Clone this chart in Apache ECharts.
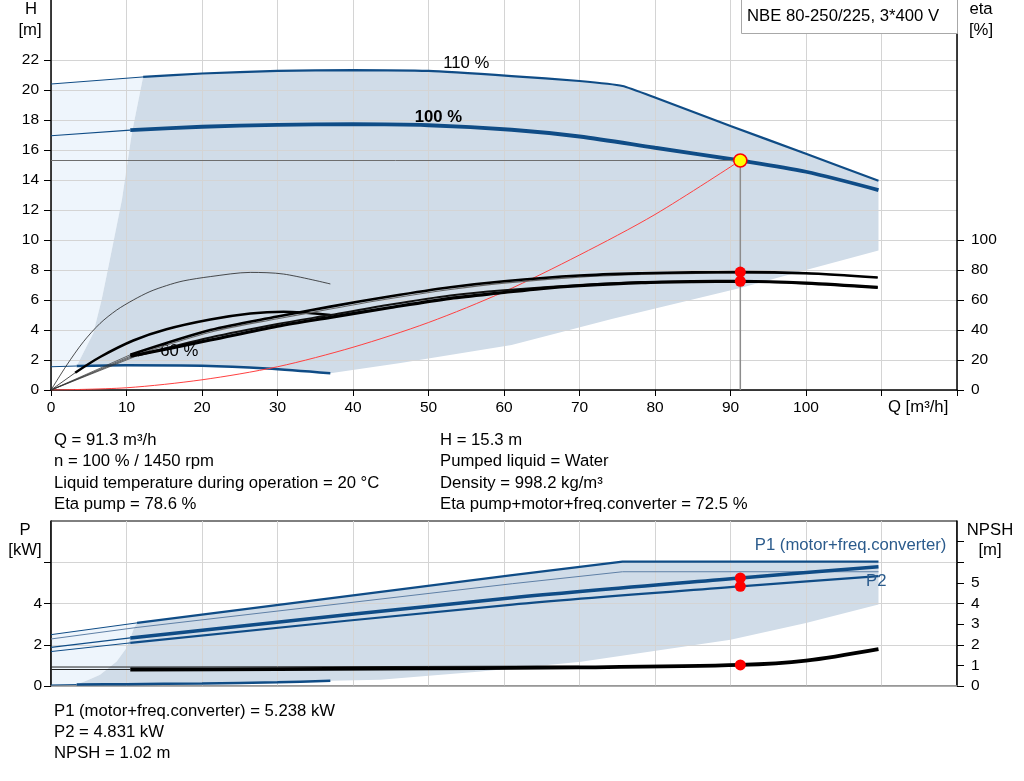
<!DOCTYPE html>
<html>
<head>
<meta charset="utf-8">
<script src="https://cdn.jsdelivr.net/npm/echarts@6/dist/echarts.min.js"></script>
<style>
html, body { margin: 0; padding: 0; background: #fff; }
#chart { width: 1024px; height: 781px; }
</style>
</head>
<body>
<div id="chart"></div>
<script>
// ---- 刻度 ----
const qLabels = [0, 10, 20, 30, 40, 50, 60, 70, 80, 90, 100]
const hLabels = [0, 2, 4, 6, 8, 10, 12, 14, 16, 18, 20, 22]
const etaLabels = [0, 20, 40, 60, 80, 100]
const pLabels = [0, 2, 4]
const pTicks = [0, 2, 4, 6]
const npshLabels = [0, 1, 2, 3, 4, 5]
const npshTicks = [0, 1, 2, 3, 4, 5, 6, 7]

// ---- 扬程曲线 H [m] ----
const h110Thin = [[0, 20.4], [12.2, 20.87]]
const h110 = [[12.2, 20.87], [20, 21.1], [30, 21.27], [40, 21.33], [50, 21.27], [61, 20.93], [70, 20.6], [75.7, 20.27], [80, 19.5], [90, 17.6], [100, 15.75], [109.6, 13.95]]
const h100Thin = [[0, 16.95], [10.5, 17.33]]
const h100 = [[10.5, 17.33], [20, 17.55], [30, 17.68], [40, 17.72], [50, 17.65], [61, 17.35], [70, 16.9], [80, 16.15], [91.3, 15.3], [100, 14.55], [109.6, 13.33]]
const h60Thin = [[0, 1.55], [3.4, 1.6]]
const h60 = [[3.4, 1.6], [10, 1.65], [20, 1.62], [28.6, 1.44], [37, 1.12]]
const systemCurve = [[0, 0], [10, 0.15], [20, 0.68], [30, 1.55], [40, 2.85], [50, 4.5], [60, 6.55], [70, 9.0], [80, 11.7], [91.3, 15.3]]
const dutyQ = 91.3
const dutyH = 15.3

// ---- 效率曲线 eta [%] ----
const etaPump60 = [[0, 0], [2.1, 16.7], [4.3, 32.2], [6.5, 44.4], [8.7, 53.3], [10.9, 60], [13.1, 65.6], [15.3, 69.6], [17.5, 72.7], [21.1, 75.6], [26.4, 78.4], [30.8, 77.3], [37, 70.7]]
const etaTot60Thin = [[0, 0], [3.2, 11.5]]
const etaTot60 = [[3.2, 11.5], [6.5, 22], [10.9, 33], [15.3, 40.5], [21.1, 47], [26.4, 51], [30.8, 52.2], [37, 50]]
const etaPump100Thin = [[0, 0], [10.5, 23.5]]
const etaPump100 = [[10.5, 23.5], [21.1, 40], [30, 49], [37, 55.6], [45, 62.5], [52.9, 68.5], [60, 72.5], [70, 76.3], [78.2, 77.8], [85, 78.4], [91.3, 78.6], [100, 77.8], [109.5, 75]]
const etaPump110Thin = [[0, 0], [11.5, 23.8]]
const etaPump110 = [[11.5, 23.8], [21.1, 38.5], [30, 47.5], [37, 54], [45, 61], [52.9, 67], [60, 71.2], [70, 75.2], [78.2, 77], [91.3, 78.1], [100, 77.5], [109.5, 75]]
const etaTot100Thin = [[0, 0], [10.5, 22.5]]
const etaTot100 = [[10.5, 22.5], [21.1, 33.3], [30, 42.5], [37, 48.4], [45, 55], [52.9, 61.1], [60, 65], [64.9, 67.6], [70, 69.5], [78.2, 71.6], [85, 72.3], [91.3, 72.5], [100, 71.3], [109.5, 68.4]]
const etaTot110Thin = [[0, 0], [11.5, 23]]
const etaTot110 = [[11.5, 23], [21.1, 35], [30, 44], [37, 50], [45, 57], [52.9, 63], [60, 66.5], [70, 70], [78.2, 71.8], [91.3, 72.4], [100, 71.2], [109.5, 68.4]]
const etaDuty = [[91.3, 78.6], [91.3, 72.5]]

// ---- 工作区域 ----
const areaTopLight = [[0, 20.4], [12.2, 20.87], [10.7, 17.1], [9.4, 12.7], [7.6, 8.2], [6.7, 6.0], [5.6, 3.78], [3.4, 1.6], [0, 1.55]]
const areaTopDark = [[12.2, 20.87], [20, 21.1], [30, 21.27], [40, 21.33], [50, 21.27], [61, 20.93], [70, 20.6], [75.7, 20.27], [80, 19.5], [90, 17.6], [100, 15.75], [109.6, 13.95],
  [109.6, 9.3], [100, 8.0], [91.3, 6.8], [74.4, 4.75], [61, 3.0], [46.3, 1.8], [37, 1.12],
  [28.6, 1.44], [20, 1.62], [10, 1.65], [3.4, 1.6],
  [5.6, 3.78], [6.7, 6.0], [7.6, 8.2], [9.4, 12.7], [10.7, 17.1]]

// ---- 功率 P [kW] / NPSH [m] ----
const p1_110Thin = [[0, 2.49], [11.4, 3.06]]
const p1_110 = [[11.4, 3.06], [61.1, 5.38], [75.7, 6.03], [109.6, 6.03]]
const p2_110 = [[0, 2.28], [11.4, 2.84], [61.1, 4.96], [75.7, 5.54], [109.6, 5.54]]
const p1_100Thin = [[0, 1.87], [10.5, 2.33]]
const p1_100 = [[10.5, 2.33], [61.1, 4.28], [91.3, 5.238], [109.6, 5.78]]
const p2_100Thin = [[0, 1.67], [10.5, 2.09]]
const p2_100 = [[10.5, 2.09], [61.1, 3.95], [91.3, 4.831], [109.6, 5.33]]
const p60Thin = [[0, 0.05], [3.4, 0.07]]
const p60 = [[3.4, 0.07], [10, 0.09], [20, 0.12], [30, 0.18], [37, 0.26]]
const npsh110 = [[0, 0.92], [10.5, 0.92], [30, 0.93], [50, 0.95], [70, 0.97]]
const npsh100Thin = [[0, 0.8], [10.5, 0.8]]
const npsh100 = [[10.5, 0.8], [30, 0.82], [43.6, 0.84], [70, 0.9], [91.3, 1.02], [100, 1.23], [109.6, 1.79]]
const pDuty = [[91.3, 5.238], [91.3, 4.831]]
const npshDuty = [[91.3, 1.02]]

const areaBotLight = [[0, 2.49], [11.4, 3.06], [11, 2.8], [10.5, 2.33], [10, 1.84], [8.7, 1.19], [6.5, 0.54], [5, 0.3], [3.4, 0.07], [0, 0.05]]
const areaBotDark = [[11.4, 3.06], [61.1, 5.38], [75.7, 6.03], [109.6, 6.03],
  [109.6, 3.95], [100, 3.06], [90, 2.24], [70.2, 1.18], [56.9, 0.7], [43.6, 0.3], [37, 0.26],
  [30, 0.18], [20, 0.12], [10, 0.09], [3.4, 0.07],
  [5, 0.3], [6.5, 0.54], [8.7, 1.19], [10, 1.84], [10.5, 2.33], [11, 2.8]]

// ---- 文字 ----
const title = 'NBE 80-250/225, 3*400 V'
const infoLeft = ['Q = 91.3 m³/h', 'n = 100 % / 1450 rpm', 'Liquid temperature during operation = 20 °C', 'Eta pump = 78.6 %']
const infoRight = ['H = 15.3 m', 'Pumped liquid = Water', 'Density = 998.2 kg/m³', 'Eta pump+motor+freq.converter = 72.5 %']
const infoBottom = ['P1 (motor+freq.converter) = 5.238 kW', 'P2 = 4.831 kW', 'NPSH = 1.02 m']
// 曲线标注: [grid, Q, 值, 文字]
const curveTags = [
    [0, 17, 2.6, '60 %'],
    [0, 55, 21.75, '110 %'],
    [0, 51.3, 18.2, '100 %'],
    [1, 105.9, 6.8, 'P1 (motor+freq.converter)'],
    [1, 109.3, 5.05, 'P2']
]

const FONT = 'Arial, "Liberation Sans", sans-serif'
const TXT = 16.7 // 文字字号
const BLUE = '#0f4c86'
const TAG_BLUE = '#2b5b8c'
const AREA_DARK = '#d0dce8'
const AREA_LIGHT = '#eef5fc'

function curve(data, width, color, xi, yi, smooth) {
    return {
        type: 'line', data: data, xAxisIndex: xi, yAxisIndex: yi,
        symbol: 'none', silent: true, z: 3,
        smooth: smooth === undefined ? 0.3 : smooth,
        lineStyle: { width: width, color: color }
    }
}

function area(pts, color, xi, yi) {
    return {
        type: 'custom', data: pts, xAxisIndex: xi, yAxisIndex: yi, z: 1, silent: true,
        renderItem: function (params, api) {
            if (params.dataIndex !== 0) return null
            return {
                type: 'polygon',
                shape: { points: pts.map(function (p) { return api.coord(p) }) },
                style: { fill: color }
            }
        }
    }
}

function dots(data, size, fill, border, xi, yi) {
    return {
        type: 'scatter', data: data, xAxisIndex: xi, yAxisIndex: yi, z: 5, silent: true,
        symbolSize: size,
        itemStyle: { color: fill, borderColor: border, borderWidth: border ? 1.5 : 0, opacity: 1 }
    }
}

function txt(x, y, text, opts) {
    opts = opts || {}
    return {
        type: 'text', x: x, y: y, z: opts.z || 10,
        style: {
            text: text, fill: opts.color || '#000', fontSize: opts.size || TXT, fontFamily: FONT,
            fontWeight: opts.weight || 'normal', align: opts.align || 'left', verticalAlign: 'middle'
        }
    }
}

const axisFont = { fontSize: 15.5, fontFamily: FONT, color: '#000' }
const grayLine = { lineStyle: { color: '#d4d4d4', width: 1 } }

const graphics = [
    { type: 'rect', z: 10, shape: { x: 741.5, y: -1, width: 216, height: 34.5 }, style: { fill: '#fff', stroke: '#a8a8a8', lineWidth: 1 } },
    txt(747, 16, title),
    txt(31, 9, 'H', { align: 'center' }),
    txt(30, 30, '[m]', { align: 'center' }),
    txt(981, 9, 'eta', { align: 'center' }),
    txt(981, 30, '[%]', { align: 'center' }),
    txt(888, 407, 'Q [m³/h]'),
    txt(25, 530, 'P', { align: 'center' }),
    txt(25, 550, '[kW]', { align: 'center' }),
    txt(990, 530, 'NPSH', { align: 'center' }),
    txt(990, 550, '[m]', { align: 'center' })
]
infoLeft.forEach(function (s, i) { graphics.push(txt(54, 440 + i * 21.5, s)) })
infoRight.forEach(function (s, i) { graphics.push(txt(440, 440 + i * 21.5, s)) })
infoBottom.forEach(function (s, i) { graphics.push(txt(54, 711 + i * 21, s)) })

const option = {
    animation: false,
    backgroundColor: '#fff',
    grid: [
        { left: 51, top: 0, width: 906, height: 390 },
        { left: 51, top: 521, width: 906, height: 165, show: true, borderColor: '#000', borderWidth: 1 }
    ],
    xAxis: [
        {
            type: 'value', gridIndex: 0, min: 0, max: 120, interval: 10, z: 2,
            axisLine: { lineStyle: { color: '#000', width: 1.5 } },
            axisTick: { show: true, length: 6, lineStyle: { color: '#000' } },
            axisLabel: Object.assign({ margin: 10, customValues: qLabels }, axisFont),
            splitLine: grayLine
        },
        {
            type: 'value', gridIndex: 1, min: 0, max: 120, interval: 10, z: 2,
            axisLine: { lineStyle: { color: '#a0a0a0', width: 1.5 } },
            axisTick: { show: false }, axisLabel: { show: false },
            splitLine: grayLine
        }
    ],
    yAxis: [
        {
            type: 'value', gridIndex: 0, min: 0, max: 26, interval: 2, z: 2,
            axisLine: { show: true, lineStyle: { color: '#000', width: 1.5 } },
            axisTick: { show: true, length: 7, customValues: hLabels, lineStyle: { color: '#000' } },
            axisLabel: Object.assign({ margin: 12, customValues: hLabels }, axisFont),
            splitLine: grayLine
        },
        {
            type: 'value', gridIndex: 0, position: 'right', min: 0, max: 260, interval: 20, z: 2,
            axisLine: { show: true, lineStyle: { color: '#000', width: 1.5 } },
            axisTick: { show: true, length: 7, customValues: etaLabels, lineStyle: { color: '#000' } },
            axisLabel: Object.assign({ margin: 14, customValues: etaLabels }, axisFont),
            splitLine: { show: false }
        },
        {
            type: 'value', gridIndex: 1, min: 0, max: 8, interval: 2, z: 2,
            axisLine: { show: true, lineStyle: { color: '#000', width: 1.5 } },
            axisTick: { show: true, length: 7, customValues: pTicks, lineStyle: { color: '#000' } },
            axisLabel: Object.assign({ margin: 9, customValues: pLabels }, axisFont),
            splitLine: grayLine
        },
        {
            type: 'value', gridIndex: 1, position: 'right', min: 0, max: 8, interval: 1, z: 2,
            axisLine: { show: true, lineStyle: { color: '#000', width: 1.5 } },
            axisTick: { show: true, length: 7, customValues: npshTicks, lineStyle: { color: '#000' } },
            axisLabel: Object.assign({ margin: 14, customValues: npshLabels }, axisFont),
            splitLine: { show: false }
        }
    ],
    graphic: graphics,
    series: [
        // 区域
        area(areaTopLight, AREA_LIGHT, 0, 0),
        area(areaTopDark, AREA_DARK, 0, 0),
        area(areaBotLight, AREA_LIGHT, 1, 2),
        area(areaBotDark, AREA_DARK, 1, 2),

        // 扬程
        curve(h110Thin, 1, BLUE, 0, 0, false),
        curve(h110, 2.2, BLUE, 0, 0, 0.15),
        curve(h100Thin, 1.2, BLUE, 0, 0, false),
        curve(h100, 3.8, BLUE, 0, 0),
        curve(h60Thin, 1, BLUE, 0, 0, false),
        curve(h60, 2.5, BLUE, 0, 0),
        curve(systemCurve, 1, '#ff4040', 0, 0),
        curve([[0, dutyH], [dutyQ, dutyH]], 1, '#6e6e6e', 0, 0, false),
        curve([[dutyQ, dutyH], [dutyQ, 0]], 1.5, '#8c8c8c', 0, 0, false),

        // 效率
        curve(etaPump60, 0.8, '#222', 0, 1),
        curve(etaTot60Thin, 0.8, '#222', 0, 1, false),
        curve(etaTot60, 2.5, '#000', 0, 1),
        curve(etaPump110Thin, 0.7, '#333', 0, 1, false),
        curve(etaPump110, 1.2, '#666', 0, 1),
        curve(etaTot110Thin, 0.7, '#333', 0, 1, false),
        curve(etaTot110, 2, '#111', 0, 1),
        curve(etaPump100Thin, 0.7, '#333', 0, 1, false),
        curve(etaPump100, 2.6, '#000', 0, 1),
        curve(etaTot100Thin, 0.7, '#333', 0, 1, false),
        curve(etaTot100, 3.2, '#000', 0, 1),
        dots(etaDuty, 11, '#ff0000', null, 0, 1),
        dots([[dutyQ, dutyH]], 13, '#ffff00', '#ff0000', 0, 0),

        // 功率与 NPSH
        curve(p1_110Thin, 1, BLUE, 1, 2, false),
        curve(p1_110, 2.2, BLUE, 1, 2, false),
        curve(p2_110, 1, '#5f80a6', 1, 2, false),
        curve(p1_100Thin, 1.2, BLUE, 1, 2, false),
        curve(p1_100, 3.6, BLUE, 1, 2),
        curve(p2_100Thin, 1, BLUE, 1, 2, false),
        curve(p2_100, 2.2, BLUE, 1, 2),
        curve(p60Thin, 1, BLUE, 1, 2, false),
        curve(p60, 2.5, BLUE, 1, 2),
        curve(npsh110, 1, '#222', 1, 3, false),
        curve(npsh100Thin, 1.2, '#222', 1, 3, false),
        curve(npsh100, 3.8, '#000', 1, 3),
        dots(pDuty, 11, '#ff0000', null, 1, 2),
        dots(npshDuty, 11, '#ff0000', null, 1, 3)
    ]
}

function drawChart(dom, opt) {
    let myChart = echarts.init(document.getElementById(dom))
    myChart.setOption(opt)
    // 曲线标注按坐标换算位置
    let tags = curveTags.map(function (t) {
        let p = myChart.convertToPixel({ gridIndex: t[0] }, [t[1], t[2]])
        let o = { align: 'center', z: t[3] === '60 %' ? 2 : 10 }
        if (t[3] === '100 %') o.weight = 'bold'
        if (t[0] === 1) o.color = TAG_BLUE
        return txt(p[0], p[1], t[3], o)
    })
    myChart.setOption({ graphic: graphics.concat(tags) })
}
drawChart('chart', option)
</script>
</body>
</html>
